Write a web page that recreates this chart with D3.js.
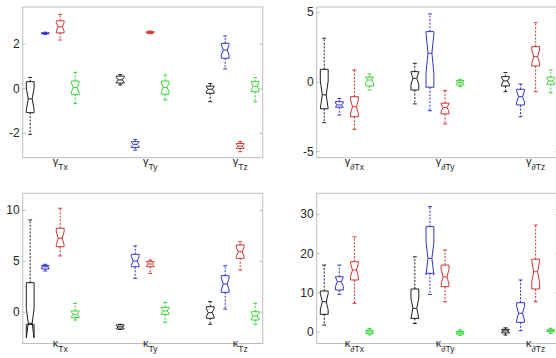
<!DOCTYPE html>
<html>
<head>
<meta charset="utf-8">
<script src="https://cdn.jsdelivr.net/npm/d3@7"></script>
<style>
  html, body { margin: 0; padding: 0; background: #fff; }
  svg { display: block; font-family: "Liberation Sans", Arial, sans-serif; }
</style>
</head>
<body>
<svg id="chart" width="556" height="358"></svg>
<script>
// Box statistics: [lower whisker, Q1, median, Q3, upper whisker]
// Rows run group by group (x, y, z); four estimators per group.
const gammaT = [
  [-2.06, -1.09, -0.47, 0.30, 0.49], [2.42, 2.45, 2.47, 2.49, 2.52], [2.17, 2.49, 2.76, 3.03, 3.32], [-0.67, -0.27, 0.04, 0.33, 0.72],
  [0.15, 0.24, 0.38, 0.55, 0.62], [-2.77, -2.65, -2.51, -2.39, -2.29], [2.45, 2.48, 2.51, 2.54, 2.57], [-0.52, -0.26, 0.04, 0.33, 0.60],
  [-0.60, -0.22, -0.04, 0.10, 0.22], [0.87, 1.35, 1.72, 2.02, 2.35], [-2.84, -2.69, -2.59, -2.47, -2.39], [-0.60, -0.15, 0.10, 0.30, 0.48]
];
const gammaDT = [
  [-2.95, -1.95, -0.95, 0.89, 3.12], [-2.40, -1.84, -1.68, -1.44, -1.22], [-3.43, -2.52, -1.80, -1.08, 0.84], [-0.60, -0.31, 0.12, 0.32, 0.55],
  [-1.60, -0.60, 0.24, 0.72, 1.32], [-2.09, -0.40, 2.04, 3.60, 4.87], [-3.04, -2.32, -1.87, -1.55, -0.65], [-0.36, -0.24, -0.07, 0.07, 0.17],
  [-0.72, -0.31, 0.05, 0.36, 0.65], [-2.52, -1.68, -1.08, -0.55, -0.17], [-0.72, 1.13, 1.80, 2.52, 4.24], [-0.79, -0.19, 0.05, 0.32, 0.84]
];
const kappaT = [
  [-1.25, -1.25, -1.14, 2.85, 9.02], [4.00, 4.20, 4.42, 4.55, 4.66], [5.48, 6.39, 7.22, 8.20, 10.17], [-0.82, -0.59, -0.26, 0.07, 0.82],
  [-1.75, -1.70, -1.50, -1.30, -1.24], [3.28, 4.42, 4.98, 5.64, 6.46], [3.77, 4.42, 4.69, 4.92, 5.08], [-1.04, -0.26, 0.07, 0.43, 0.92],
  [-1.24, -0.65, -0.10, 0.49, 0.98], [0.26, 1.90, 2.72, 3.54, 4.52], [4.10, 5.25, 5.90, 6.56, 6.88], [-1.24, -0.82, -0.42, 0.00, 0.82]
];
const kappaDT = [
  [1.71, 4.44, 7.65, 10.38, 17.0], [9.54, 10.64, 12.76, 14.03, 17.0], [7.24, 13.19, 15.74, 17.86, 24.2], [-0.8, -0.4, 0.0, 0.4, 0.8],
  [2.1, 3.4, 5.96, 10.9, 19.1], [9.5, 14.9, 18.7, 26.8, 31.9], [7.65, 11.5, 14.0, 17.0, 20.8], [-0.9, -0.6, -0.25, 0.1, 0.5],
  [-0.85, -0.3, 0.2, 0.6, 1.0], [0.26, 2.4, 4.7, 7.4, 13.2], [7.65, 10.9, 15.3, 18.5, 27.2], [-0.4, 0.0, 0.26, 0.5, 0.9]
];

// Axis ranges and tick values
const gammaTDomain = [-3.11, 3.65],  gammaTTicks = [-2, 0, 2];
const gammaDTDomain = [-5.47, 5.37], gammaDTTicks = [-5, 0, 5];
const kappaTDomain = [-3.13, 11.64], kappaTTicks = [0, 5, 10];
const kappaDTDomain = [-3.0, 35.3],  kappaDTTicks = [0, 10, 20, 30];

// Group labels (symbol + subscript)
const axesNames = ['Tx', 'Ty', 'Tz'];
const gammaSymbol = 'γ', kappaSymbol = 'κ', deltaPrefix = '∂';

// Samples per box, used for the notch half-height 1.57*IQR/sqrt(n)
const sampleSize = 20;

// Styling
const seriesColors = ['#1e1e1e', '#3232d2', '#d03232', '#36d236'];
const frameColor = '#bdbdbd';
const textColor = '#262626';
const boxHalf = 0.26;

const svg = d3.select('#chart');

const panels = [
  { data: gammaT,  domain: gammaTDomain,  ticks: gammaTTicks,  sym: gammaSymbol, pre: '',          rect: [22.7, 262.7, 7, 157.7],     lab: [164.5, 169.5] },
  { data: gammaDT, domain: gammaDTDomain, ticks: gammaDTTicks, sym: gammaSymbol, pre: deltaPrefix, rect: [316.7, 558.3, 7, 157.7],    lab: [164.5, 169.5] },
  { data: kappaT,  domain: kappaTDomain,  ticks: kappaTTicks,  sym: kappaSymbol, pre: '',          rect: [22.7, 262.7, 193.3, 343.5], lab: [347, 352] },
  { data: kappaDT, domain: kappaDTDomain, ticks: kappaDTTicks, sym: kappaSymbol, pre: deltaPrefix, rect: [316.7, 558.3, 193.3, 343.5], lab: [347, 352] }
];

panels.forEach(p => {
  const [x0, x1, y0, y1] = p.rect;
  const x = d3.scaleLinear().domain([0.5, 16.5]).range([x0, x1]);
  const y = d3.scaleLinear().domain(p.domain).range([y1, y0]);
  const g = svg.append('g');

  // frame
  g.append('rect')
    .attr('x', x0).attr('y', y0)
    .attr('width', x1 - x0).attr('height', y1 - y0)
    .attr('fill', 'none').attr('stroke', frameColor).attr('stroke-width', 1);

  // left axis with inward ticks
  const left = g.append('g')
    .attr('transform', `translate(${x0},0)`)
    .call(d3.axisLeft(y).tickValues(p.ticks).tickSizeInner(-3).tickSizeOuter(0)
      .tickPadding(3).tickFormat(d => String(d)));
  left.attr('font-family', '"Liberation Sans", Arial, sans-serif').attr('font-size', 12);
  left.select('.domain').remove();
  left.selectAll('line').attr('stroke', frameColor);
  left.selectAll('text').attr('fill', textColor);

  // mirrored ticks on the right edge
  const right = g.append('g')
    .attr('transform', `translate(${x1},0)`)
    .call(d3.axisRight(y).tickValues(p.ticks).tickSizeInner(-3).tickSizeOuter(0).tickFormat(''));
  right.select('.domain').remove();
  right.selectAll('line').attr('stroke', frameColor);

  // notched boxes
  p.data.forEach((r, i) => {
    const grp = Math.floor(i / 4), m = i % 4;
    const pos = 1 + grp * 6 + m;
    const [lo, q1, med, q3, hi] = r;
    const half = 1.57 * (q3 - q1) / Math.sqrt(sampleSize);
    const nlo = med - half, nhi = med + half;
    const cx = x(pos);
    const w = x(pos + boxHalf) - cx;
    const col = seriesColors[m];
    const b = g.append('g').attr('stroke', col).attr('fill', 'none').attr('stroke-width', 1);

    // whiskers
    b.append('line').attr('x1', cx).attr('x2', cx).attr('y1', y(q3)).attr('y2', y(hi))
      .attr('stroke-dasharray', '2,1.5');
    b.append('line').attr('x1', cx).attr('x2', cx).attr('y1', y(q1)).attr('y2', y(lo))
      .attr('stroke-dasharray', '2,1.5');
    // whisker caps
    [lo, hi].forEach(v => {
      b.append('line').attr('x1', cx - w / 2).attr('x2', cx + w / 2)
        .attr('y1', y(v)).attr('y2', y(v));
    });

    // box outline with notch
    const pts = [
      [cx - w, q1], [cx - w, nlo], [cx - w / 2, med], [cx - w, nhi], [cx - w, q3],
      [cx + w, q3], [cx + w, nhi], [cx + w / 2, med], [cx + w, nlo], [cx + w, q1]
    ];
    b.append('path')
      .attr('d', d3.line().x(d => d[0]).y(d => y(d[1]))(pts) + 'Z')
      .attr('stroke-linejoin', 'miter');
    // median
    b.append('line').attr('x1', cx - w / 2).attr('x2', cx + w / 2)
      .attr('y1', y(med)).attr('y2', y(med));
  });

  // group labels
  axesNames.forEach((n, gi) => {
    const t = g.append('text')
      .attr('x', x(1 + gi * 6 + 2)).attr('y', p.lab[0])
      .attr('text-anchor', 'middle').attr('fill', textColor);
    t.append('tspan').attr('font-size', 11).text(p.sym);
    t.append('tspan').attr('font-size', 8.5).attr('dy', p.lab[1] - p.lab[0]).text(p.pre + n);
  });
});
</script>
</body>
</html>
